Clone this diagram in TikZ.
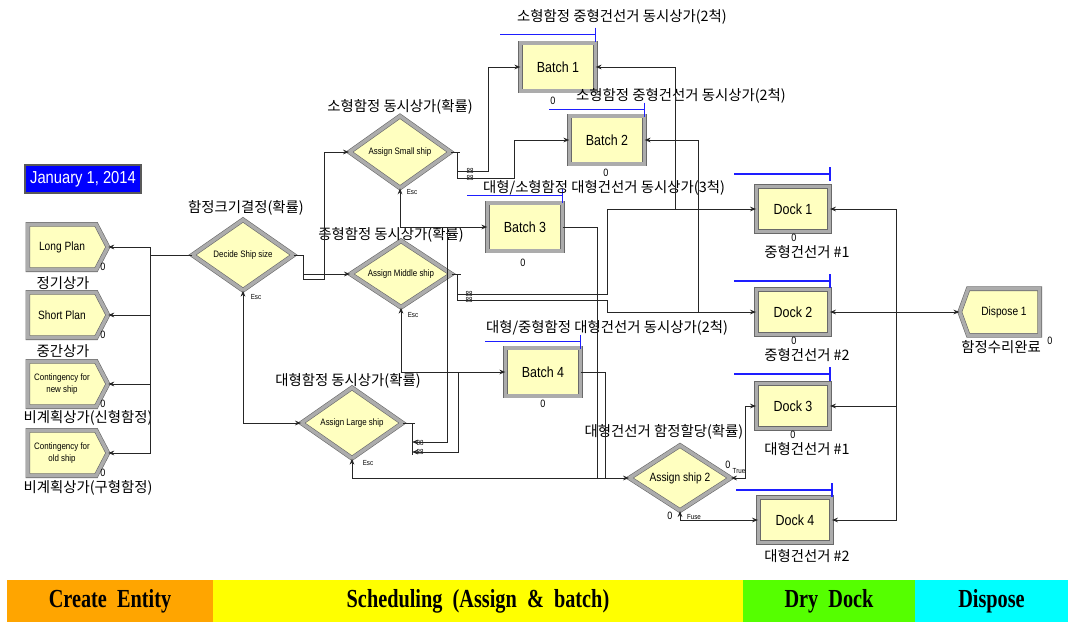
\documentclass[tikz,border=0pt]{standalone}
\usepackage{fontspec}
\setmainfont{Liberation Sans}
\newfontfamily\korfont{Noto Sans CJK KR}
\newfontfamily\boxfont{Liberation Sans}[FakeStretch=0.85]
\newfontfamily\barfont{Liberation Serif}[FakeStretch=0.78]
\usetikzlibrary{shapes.geometric,shapes.symbols,positioning,arrows.meta}

\definecolor{modyellow}{RGB}{255,255,192}
\definecolor{framedark}{RGB}{105,105,105}
\definecolor{framelight}{RGB}{172,172,172}
\definecolor{queueblue}{RGB}{30,30,255}
\definecolor{dateblue}{RGB}{0,0,255}
\definecolor{barorange}{RGB}{255,165,0}
\definecolor{baryellow}{RGB}{255,255,0}
\definecolor{bargreen}{RGB}{85,255,0}
\definecolor{barcyan}{RGB}{0,255,255}

\tikzset{
  module/.style={draw=framedark, double=framelight, double distance=2.6pt, line width=0.45pt,
    fill=modyellow, inner sep=1pt, align=center, font=\boxfont\fontsize{11}{12}\selectfont},
  createmod/.style={module, signal, signal to=east, signal pointer angle=125,
    minimum width=60pt, minimum height=34pt, font=\boxfont\fontsize{9}{10}\selectfont},
  disposemod/.style={module, signal, signal to=west, signal pointer angle=140,
    minimum width=60pt, minimum height=35pt, font=\boxfont\fontsize{9}{10}\selectfont},
  decide/.style={module, diamond, aspect=1.4, inner sep=0pt, minimum width=76pt,
    minimum height=53pt, font=\boxfont\fontsize{7}{8}\selectfont},
  batchmod/.style={module, minimum width=56pt, minimum height=36pt},
  dockmod/.style={module, minimum width=55pt, minimum height=34pt},
  datebox/.style={fill=dateblue, draw=black!65, line width=0.9pt, text=white,
    minimum width=87pt, minimum height=21pt, font=\boxfont\fontsize{13}{14}\selectfont},
  kor/.style={inner sep=1pt, font=\korfont\fontsize{10.8}{12}\selectfont},
  cnt/.style={inner sep=0pt, font=\boxfont\fontsize{8}{9}\selectfont},
  tag/.style={inner sep=0pt, font=\boxfont\fontsize{5.5}{6}\selectfont},
  conn/.style={draw=black!85, line width=0.7pt},
  queue/.style={draw=queueblue, line width=0.9pt},
  barlabel/.style={inner sep=0pt, font=\barfont\bfseries\fontsize{19.5}{20}\selectfont},
  >={Stealth[length=4.5pt,width=3.5pt]}
}
\newcommand{\queueline}[2]{%
  \draw[queue] (#1.north east) ++(0,-#2) -- ++(-96,0);
  \draw[queue] (#1.north east) ++(0,-#2-7) -- ++(0,14);}

\begin{document}
\begin{tikzpicture}[x=0.75pt,y=0.75pt,yscale=-1,xscale=1]
\useasboundingbox (0,0) rectangle (1072,622);

% legend bar
\foreach \xa/\xb/\col/\txt in {7/213/barorange/Create~~Entity,
    213/743/baryellow/Scheduling~~(Assign~~\&~~batch),
    743/915/bargreen/Dry~~Dock, 915/1068/barcyan/Dispose}{
  \fill[\col] (\xa,580) rectangle (\xb,622);
  \node[barlabel] (bar\xa) at ({(\xa+\xb)/2},601) {\txt};
}

\node[datebox] (date) at (83,179) {January 1, 2014};

%Create modules
\node[createmod] (long) at (62,247) {Long Plan};
\node[createmod] (short) at (62,315) {Short Plan};
\node[createmod, font=\boxfont\fontsize{7}{8.5}\selectfont] (cnew) at (62,384) {Contingency for\\new ship};
\node[createmod, font=\boxfont\fontsize{7}{8.5}\selectfont] (cold) at (62,453) {Contingency for\\old ship};

%Decide modules
\node[decide] (dss) at (243,255) {Decide Ship size};
\node[decide, minimum height=54pt] (asm) at (400,152) {Assign Small ship};
\node[decide, minimum height=50pt] (amd) at (401,274) {Assign Middle ship};
\node[decide] (alg) at (352,423) {Assign Large ship};
\node[decide, minimum height=49pt, font=\boxfont\fontsize{9}{10}\selectfont] (as2) at (680,478) {Assign ship 2};

%Batch modules
\node[batchmod] (b1) at (558,67) {Batch 1};
\node[batchmod] (b2) at (607,140) {Batch 2};
\node[batchmod] (b3) at (525,227) {Batch 3};
\node[batchmod] (b4) at (543,372) {Batch 4};

%Dock modules
\node[dockmod] (d1) at (793,209) {Dock 1};
\node[dockmod] (d2) at (793,312) {Dock 2};
\node[dockmod] (d3) at (793,406) {Dock 3};
\node[dockmod] (d4) at (795,520) {Dock 4};

\node[disposemod] (disp) at (1004,312) {Dispose 1};

%queues
\queueline{b1}{8}
\queueline{b2}{6}
\queueline{b3}{7}
\queueline{b4}{6}
\queueline{d1}{12}
\queueline{d2}{8}
\queueline{d3}{9}
\queueline{d4}{7}

% Text Node
\node[kor] (longlbl) at (63,283) {정기상가};
\node[kor] (shortlbl) at (63,351) {중간상가};
\node[kor] (cnewlbl) at (88,418) {비계획상가(신형함정)};
\node[kor] (coldlbl) at (88,488) {비계획상가(구형함정)};
\node[kor] (dsslbl) at (246,208) {함정크기결정(확률)};
\node[kor] (asmlbl) at (400,107) {소형함정 동시상가(확률)};
\node[kor] (amdlbl) at (391,235) {종형함정 동시상가(확률)};
\node[kor] (alglbl) at (348,381) {대형함정 동시상가(확률)};
\node[kor] (as2lbl) at (664,432) {대형건선거 함정할당(확률)};
\node[kor] (b1lbl) at (622,17) {소형함정 중형건선거 동시상가(2척)};
\node[kor] (b2lbl) at (681,96) {소형함정 중형건선거 동시상가(2척)};
\node[kor] (b3lbl) at (604,188) {대형/소형함정 대형건선거 동시상가(3척)};
\node[kor] (b4lbl) at (607,328) {대형/중형함정 대형건선거 동시상가(2척)};
\node[kor] (d1lbl) at (807,252) {중형건선거 \#1};
\node[kor] (d2lbl) at (807,355) {중형건선거 \#2};
\node[kor] (d3lbl) at (807,449) {대형건선거 \#1};
\node[kor] (d4lbl) at (807,556) {대형건선거 \#2};
\node[kor] (displbl) at (1001,347) {함정수리완료};

% counters
\node[cnt] (longcnt) at (103,267) {0};
\node[cnt] (shortcnt) at (103,335) {0};
\node[cnt] (cnewcnt) at (103,404) {0};
\node[cnt] (coldcnt) at (103,473) {0};
\node[cnt] (b1cnt) at (553,101) {0};
\node[cnt] (b2cnt) at (606,173) {0};
\node[cnt] (b3cnt) at (523,263) {0};
\node[cnt] (b4cnt) at (543,404) {0};
\node[cnt] (d1cnt) at (794,238) {0};
\node[cnt] (d2cnt) at (794,341) {0};
\node[cnt] (d3cnt) at (793,435) {0};
\node[cnt] (dispcnt) at (1050,341) {0};
\node[cnt] (truecnt) at (728,465) {0};
\node[cnt] (fusecnt) at (670,516) {0};

% exit tags
\node[tag] (dssesc) at (256,297) {Esc};
\node[tag] (asmesc) at (412,192) {Esc};
\node[tag] (amdesc) at (413,315) {Esc};
\node[tag] (algesc) at (368,463) {Esc};
\node[tag] (as2true) at (739,471) {True};
\node[tag] (as2fuse) at (694,517) {Fuse};
\foreach \px/\py in {470/171,470/178,469/294,469/300,420/443,420/452}
  \node[tag] at (\px,\py) {88};

%Decide Ship size -> creates
\coordinate (cbus) at (150,255);
\draw[conn] (dss.west) -- (cbus);
\foreach \m in {long,short,cnew,cold}
  \draw[conn,->] (cbus) |- (\m.east);

%Decide Ship size exits
\coordinate (dssx) at (303,255);
\coordinate (smj) at (324,279);
\draw[conn] (dss.east) -- ++(10,0);
\draw[conn] (dssx) -- ++(0,25);
\draw[conn,->] (dssx |- amd.west) -- (amd.west);
\draw[conn,->] (dssx |- smj) -- (smj) |- (asm.west);
\draw[conn,<->] (dss.south) |- (alg.west);

%Assign Small ship exits
\coordinate (asmx) at (457,152);
\coordinate (b1j) at (488,171);
\coordinate (b2j) at (514,178);
\draw[conn] (asm.east) -- ++(9,0);
\draw[conn] (asmx) -- ++(0,27);
\draw[conn,->] (asmx |- b1j) -- (b1j) |- (b1.west);
\draw[conn,->] (asmx |- b2j) -- (b2j) |- (b2.west);
\draw[conn,<->] (asm.south) |- (b3.west);

%Assign Middle ship exits
\coordinate (amdx) at (457,274);
\coordinate (d1j) at (607,294);
\coordinate (d2j) at (607,300);
\draw[conn] (amd.east) -- ++(9,0);
\draw[conn] (amdx) -- ++(0,27);
\draw[conn,->] (amdx |- d1j) -- (d1j) |- (d1.west);
\draw[conn,->] (amdx |- d2j) -- (d2j) |- (d2.west);
\draw[conn,<->] (amd.south) |- (b4.west);

%Assign Large ship exits
\coordinate (algx) at (412,423);
\coordinate (l3j) at (447,442);
\coordinate (l4j) at (458,452);
\draw[conn] (alg.east) -- ++(12,0);
\draw[conn] (algx) -- ++(0,32);
\draw[conn,->] (l3j |- b3.west) -- (l3j) -- (algx |- l3j);
\draw[conn,->] (l4j |- b4.west) -- (l4j) -- (algx |- l4j);
\draw[conn,<->] (alg.south) |- (as2.west);

%Batch exits
\coordinate (b3d) at (597,478);
\coordinate (b4d) at (605,478);
\coordinate (b1d) at (675,209);
\coordinate (b2d) at (698,312);
\draw[conn] (b3.east) -| (b3d);
\draw[conn] (b4.east) -| (b4d);
\draw[conn,<-] (b1.east) -| (b1d);
\draw[conn,<-] (b2.east) -| (b2d);

%Assign ship 2 exits
\draw[conn,<->] (as2.east) -- ++(14,0) |- (d3.west);
\draw[conn,<->] (as2.south) |- (d4.west);

%Docks -> Dispose
\coordinate (dbus) at (896,312);
\draw[conn,<->] (d2.east) -- (disp.west);
\foreach \d in {d1,d3,d4}
  \draw[conn,->] (dbus) |- (\d.east);

\end{tikzpicture}
\end{document}
